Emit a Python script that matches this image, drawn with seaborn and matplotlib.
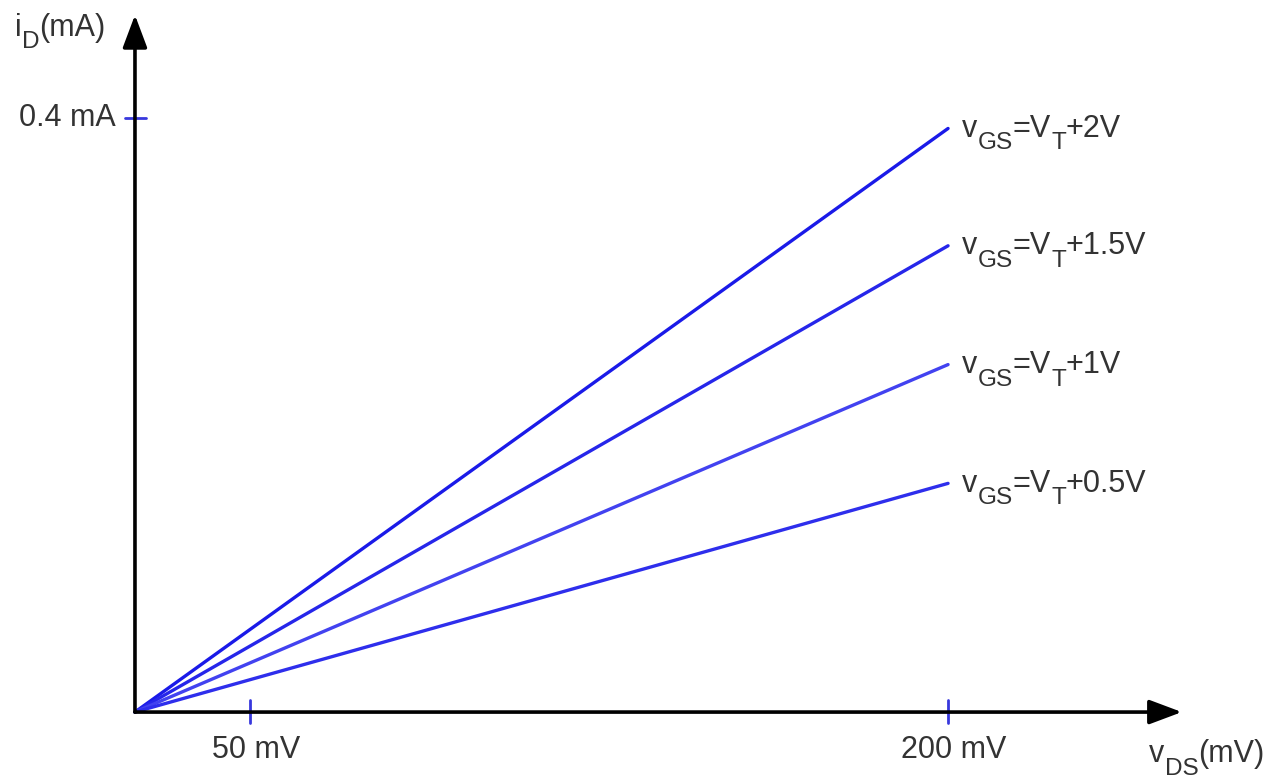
import pandas as pd
import seaborn as sns
import matplotlib.pyplot as plt
from matplotlib.transforms import offset_copy

# === Data (schematic triode-region MOSFET curves) ===
vds_points = [0, 200]                      # mV, lines run from origin to 200 mV
id_end = [0.393, 0.314, 0.234, 0.154]      # mA at vDS = 200 mV
series = ["+2V", "+1.5V", "+1V", "+0.5V"]
line_colors = ["#1a1ae8", "#2626ea", "#4242f0", "#2e2eec"]

x_tick_pos = [28.3, 200]                   # the 50 mV tick is drawn schematically
x_tick_labels = ["50 mV", "200 mV"]
y_tick_pos = [0.4]
y_tick_labels = ["0.4 mA"]

rows = []
for name, yend in zip(series, id_end):
    for v in vds_points:
        rows.append({"vds": v, "id": yend * v / 200, "vgs": name})
df = pd.DataFrame(rows)

# === Figure ===
sns.set_style("white")
plt.rcParams["font.family"] = ["Liberation Sans", "DejaVu Sans"]

fig = plt.figure(figsize=(12.68, 7.78), dpi=100)
ax = fig.add_axes([0, 0, 1, 1])

sns.lineplot(data=df, x="vds", y="id", hue="vgs", palette=line_colors,
             linewidth=2.4, legend=False, ax=ax)

ax.set_xlim(-33.2, 278.7)
ax.set_ylim(-0.0444, 0.4795)
ax.axis("off")

txt = "#333333"
fs = 22
renderer = fig.canvas.get_renderer()


def label(x, y, pieces):
    """Draw text with real-size subscripts: pieces = [(string, is_sub), ...]"""
    dx = 0.0
    for s, sub in pieces:
        size = fs * 0.8 if sub else fs
        dy = -fs * 0.42 if sub else 0.0
        tr = offset_copy(ax.transData, fig=fig, x=dx, y=dy, units="points")
        t = ax.text(x, y, s, ha="left", va="baseline", fontsize=size,
                    color=txt, transform=tr)
        w = t.get_window_extent(renderer=renderer).width
        dx += w * 72 / fig.dpi


# axes with arrow heads
arrow = dict(arrowstyle="-|>,head_length=2.0,head_width=0.75",
             color="black", lw=2.6, shrinkA=0, shrinkB=0)
ax.annotate("", xy=(257.5, 0), xytext=(0, 0), arrowprops=arrow)
ax.annotate("", xy=(0, 0.4694), xytext=(0, 0), arrowprops=arrow)

# tick marks
for xp, lab in zip(x_tick_pos, x_tick_labels):
    ax.plot([xp, xp], [-0.0075, 0.008], color="#3838dd", lw=2)
    ax.text(xp + 1.5, -0.0255, lab, ha="center", va="center", fontsize=fs, color=txt)
for yp, lab in zip(y_tick_pos, y_tick_labels):
    ax.plot([-2.5, 2.8], [yp, yp], color="#3838dd", lw=2)
    ax.text(-4.8, yp, lab, ha="right", va="center", fontsize=fs, color=txt)

# axis titles
label(-29.5, 0.4555, [("i", False), ("D", True), ("(mA)", False)])
label(249.5, -0.0335, [("v", False), ("DS", True), ("(mV)", False)])

# curve labels
for name, yend in zip(series, id_end):
    label(203.5, yend - 0.0055,
          [("v", False), ("GS", True), ("=V", False), ("T", True), (name, False)])

plt.savefig("out.png", dpi=100)
